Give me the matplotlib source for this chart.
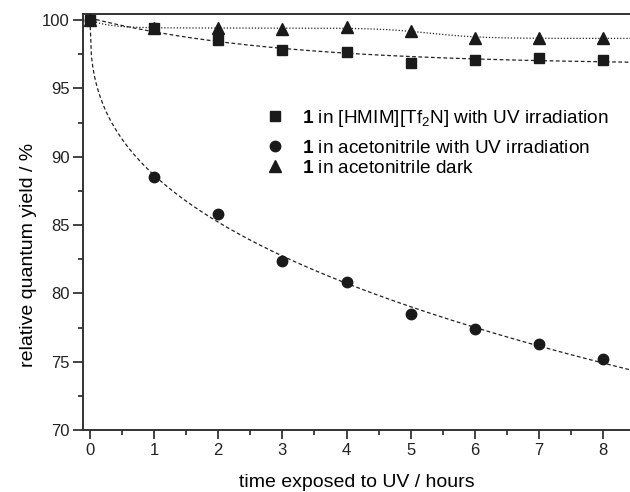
import matplotlib
matplotlib.use("Agg")
import matplotlib.pyplot as plt
import numpy as np
from matplotlib.ticker import MultipleLocator

plt.rcParams['font.family'] = ['Liberation Sans', 'DejaVu Sans']
plt.rcParams['mathtext.fontset'] = 'custom'
plt.rcParams['mathtext.rm'] = 'Liberation Sans'
plt.rcParams['mathtext.bf'] = 'Liberation Sans:bold'

# data
hours = [0, 1, 2, 3, 4, 5, 6, 7, 8]
il_uv = [100.0, 99.4, 98.55, 97.85, 97.65, 96.85, 97.1, 97.25, 97.1]
acn_uv = [100.0, 88.5, 85.8, 82.4, 80.8, 78.5, 77.4, 76.3, 75.2]
acn_dark = [100.0, 99.45, 99.4, 99.35, 99.5, 99.2, 98.7, 98.7, 98.7]

labels = [r"$\mathbf{1}$ in [HMIM][Tf$_2$N] with UV irradiation",
          r"$\mathbf{1}$ in acetonitrile with UV irradiation",
          r"$\mathbf{1}$ in acetonitrile dark"]


def fit_exp(x, y):
    """y = A + B*exp(-x/tau), tau by grid search"""
    x = np.asarray(x, float)
    y = np.asarray(y, float)
    best = None
    for tau in np.linspace(0.3, 10, 500):
        M = np.column_stack([np.ones_like(x), np.exp(-x / tau)])
        coef = np.linalg.lstsq(M, y, rcond=None)[0]
        err = np.sum((M @ coef - y) ** 2)
        if best is None or err < best[0]:
            best = (err, tau, coef)
    _, tau, c = best
    return lambda t: c[0] + c[1] * np.exp(-t / tau)


def fit_exp_step(x, y):
    """y = C + A*exp(-x/t1) + B/(1+exp(-(x-x0)/w)), grid search"""
    x = np.asarray(x, float)
    y = np.asarray(y, float)
    best = None
    for t1 in np.linspace(0.2, 1.0, 9):
        for x0 in np.linspace(4, 6, 21):
            for w in np.linspace(0.4, 1.5, 12):
                M = np.column_stack([np.ones_like(x), np.exp(-x / t1),
                                     1 / (1 + np.exp(-(x - x0) / w))])
                coef = np.linalg.lstsq(M, y, rcond=None)[0]
                err = np.sum((M @ coef - y) ** 2)
                if best is None or err < best[0]:
                    best = (err, t1, x0, w, coef)
    _, t1, x0, w, c = best
    return lambda t: (c[0] + c[1] * np.exp(-t / t1)
                      + c[2] / (1 + np.exp(-(t - x0) / w)))


def fit_power(x, y):
    """y = 100 - a*x^b"""
    x = np.asarray(x[1:], float)
    d = 100 - np.asarray(y[1:], float)
    b, loga = np.polyfit(np.log(x), np.log(d), 1)
    return lambda t: 100 - np.exp(loga) * t ** b


tt = np.linspace(0, 8.45, 400)

fig = plt.figure(figsize=(6.3, 4.92), dpi=100)
ax = fig.add_axes([0.1317, 0.126, 0.8683, 0.8455])

ax.plot(tt, fit_exp_step(hours, acn_dark)(tt), ls=(0, (1, 1.5)), color='#222222', lw=0.9)
ax.plot(tt, fit_exp(hours, il_uv)(tt), ls=(0, (3, 2)), color='#222222', lw=0.9)
ax.plot(tt, fit_power(hours, acn_uv)(tt), ls=(0, (3, 2)), color='#222222', lw=0.9)

ax.plot(hours, acn_dark, '^', color='#1a1a1a', ms=8, label=labels[2], zorder=3)
ax.plot(hours, acn_uv, 'o', color='#1a1a1a', ms=7.5, label=labels[1], zorder=3)
ax.plot(hours, il_uv, 's', color='#1a1a1a', ms=6.5, label=labels[0], zorder=4)

ax.set_xlim(-0.11, 8.42)
ax.set_ylim(70, 100.45)
ax.xaxis.set_major_locator(MultipleLocator(1))
ax.xaxis.set_minor_locator(MultipleLocator(0.5))
ax.yaxis.set_major_locator(MultipleLocator(5))
ax.yaxis.set_minor_locator(MultipleLocator(2.5))
ax.tick_params(which='both', direction='out', width=1.2, labelsize=12,
               colors='#222222')
ax.tick_params(axis='y', which='major', length=7.2, pad=2.5)
ax.tick_params(axis='y', which='minor', length=3.6)
ax.tick_params(axis='x', which='major', length=6.5, pad=2.5)
ax.tick_params(axis='x', which='minor', length=3.6)
for s in ['left', 'bottom', 'top']:
    ax.spines[s].set_linewidth(1.4)
    ax.spines[s].set_color('#333333')
ax.spines['right'].set_visible(False)

ax.set_xlabel('time exposed to UV / hours', fontsize=14, va='baseline')
ax.xaxis.set_label_coords(0.5, -0.137)
ax.set_ylabel('relative quantum yield / %', fontsize=14, va='baseline')
ax.yaxis.set_label_coords(-0.0914, 0.42)

h, l = ax.get_legend_handles_labels()
leg1 = ax.legend([h[2]], [l[2]], frameon=False, loc='center left',
                 bbox_to_anchor=(0.333, 0.75), fontsize=13.7, borderpad=0,
                 borderaxespad=0, handlelength=1.0, handletextpad=0.96)
ax.add_artist(leg1)
ax.legend([h[1], h[0]], [l[1], l[0]], frameon=False, loc='center left',
          bbox_to_anchor=(0.333, 0.653), fontsize=13.7, borderpad=0,
          borderaxespad=0, handlelength=1.0, handletextpad=0.96,
          labelspacing=0.15)

fig.savefig('out.png', dpi=100)
